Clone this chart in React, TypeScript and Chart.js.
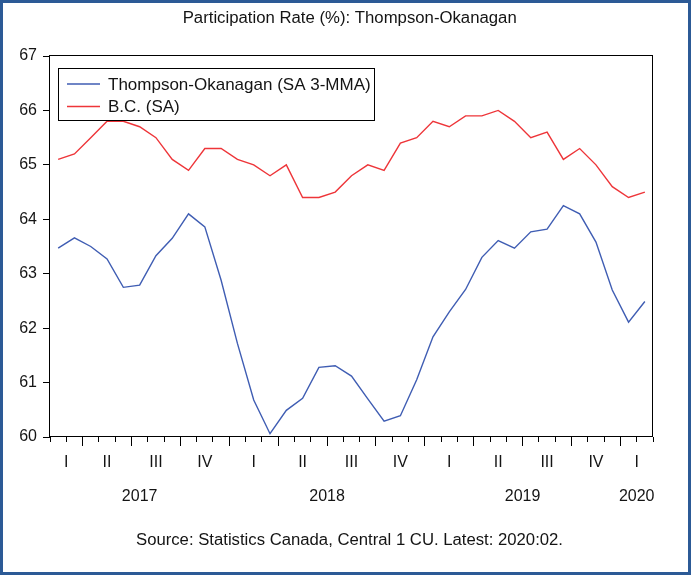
import React, { useEffect, useRef } from "react";
import { Chart, registerables } from "chart.js";

Chart.register(...registerables);

const TITLE = "Participation Rate (%): Thompson-Okanagan";
const SOURCE = "Source: Statistics Canada, Central 1 CU. Latest: 2020:02.";

const MONTHS = [
  "2017:02", "2017:03", "2017:04", "2017:05", "2017:06", "2017:07", "2017:08", "2017:09", "2017:10", "2017:11", "2017:12",
  "2018:01", "2018:02", "2018:03", "2018:04", "2018:05", "2018:06", "2018:07", "2018:08", "2018:09", "2018:10", "2018:11", "2018:12",
  "2019:01", "2019:02", "2019:03", "2019:04", "2019:05", "2019:06", "2019:07", "2019:08", "2019:09", "2019:10", "2019:11", "2019:12",
  "2020:01", "2020:02",
];

const THOMPSON_OKANAGAN = [
  63.47, 63.66, 63.50, 63.27, 62.75, 62.79, 63.33, 63.65, 64.10, 63.86, 62.88,
  61.72, 60.68, 60.06, 60.49, 60.71, 61.28, 61.31, 61.12, 60.70, 60.29, 60.39, 61.05,
  61.84, 62.30, 62.71, 63.30, 63.61, 63.47, 63.77, 63.82, 64.25, 64.10, 63.58, 62.70,
  62.11, 62.49,
];

const BC = [
  65.1, 65.2, 65.5, 65.8, 65.8, 65.7, 65.5, 65.1, 64.9, 65.3, 65.3,
  65.1, 65.0, 64.8, 65.0, 64.4, 64.4, 64.5, 64.8, 65.0, 64.9, 65.4, 65.5,
  65.8, 65.7, 65.9, 65.9, 66.0, 65.8, 65.5, 65.6, 65.1, 65.3, 65.0, 64.6,
  64.4, 64.5,
];

const SERIES_NAMES = ["Thompson-Okanagan (SA 3-MMA)", "B.C. (SA)"];
const SERIES_COLORS = ["#3F5DB3", "#EE3539"];
const Y_MIN = 60;
const Y_MAX = 67;
const QUARTER_LABELS = ["I", "II", "III", "IV"];

const FONT = '"Liberation Sans", Arial, sans-serif';
const TEXT_COLOR = "#141414";

function drawFit(ctx: CanvasRenderingContext2D, text: string, cx: number, baseline: number, size: number, width: number) {
  ctx.save();
  ctx.font = `${size}px ${FONT}`;
  const w = ctx.measureText(text).width;
  const sx = width / w;
  ctx.translate(cx, baseline);
  ctx.scale(sx, 1);
  ctx.textAlign = "center";
  ctx.textBaseline = "alphabetic";
  ctx.fillStyle = TEXT_COLOR;
  ctx.fillText(text, 0, 0);
  ctx.restore();
}

function groupsBy(keyFn: (m: string) => string) {
  const groups: { key: string; start: number; end: number }[] = [];
  MONTHS.forEach((m, i) => {
    const k = keyFn(m);
    const last = groups[groups.length - 1];
    if (last && last.key === k) last.end = i;
    else groups.push({ key: k, start: i, end: i });
  });
  return groups;
}

const decorPlugin = {
  id: "decor",
  beforeDraw(chart: any) {
    const ctx = chart.ctx;
    ctx.save();
    ctx.fillStyle = "#ffffff";
    ctx.fillRect(0, 0, chart.width, chart.height);
    ctx.restore();
  },
  afterDraw(chart: any) {
    const ctx: CanvasRenderingContext2D = chart.ctx;
    const { left, right, top, bottom } = chart.chartArea;
    const x = chart.scales.x;
    ctx.save();

    // plot frame
    ctx.strokeStyle = "#000";
    ctx.lineWidth = 1;
    ctx.strokeRect(left - 0.5, top - 0.5, right - left, bottom - top);

    // x ticks at month boundaries
    ctx.beginPath();
    for (let i = 0; i <= MONTHS.length; i++) {
      const px = Math.floor(x.getPixelForValue(i - 0.5)) + 0.5;
      const mon = i < MONTHS.length ? parseInt(MONTHS[i].split(":")[1], 10) : 0;
      const major = i > 0 && i < MONTHS.length && mon % 3 === 1;
      const len = major ? 9 : 5;
      ctx.moveTo(px, bottom);
      ctx.lineTo(px, bottom + len);
    }
    ctx.stroke();

    // quarter labels
    ctx.fillStyle = TEXT_COLOR;
    ctx.font = `16px ${FONT}`;
    ctx.textAlign = "center";
    ctx.textBaseline = "alphabetic";
    groupsBy((m) => {
      const [y, mo] = m.split(":").map((s) => parseInt(s, 10));
      return `${y}-${Math.floor((mo - 1) / 3)}`;
    }).forEach((g) => {
      const q = parseInt(g.key.split("-")[1], 10);
      const cx = (x.getPixelForValue(g.start - 0.5) + x.getPixelForValue(g.end + 0.5)) / 2;
      ctx.fillText(QUARTER_LABELS[q], cx, 467);
    });

    // year labels
    groupsBy((m) => m.split(":")[0]).forEach((g) => {
      const cx = (x.getPixelForValue(g.start - 0.5) + x.getPixelForValue(g.end + 0.5)) / 2;
      ctx.fillText(g.key, cx, 501);
    });

    // legend
    const lx = 58.5, ly = 68.5, lw = 316, lh = 52;
    ctx.fillStyle = "#fff";
    ctx.fillRect(lx, ly, lw, lh);
    ctx.strokeStyle = "#000";
    ctx.strokeRect(lx, ly, lw, lh);
    const rows = [84, 106.5];
    SERIES_NAMES.forEach((name, i) => {
      ctx.strokeStyle = SERIES_COLORS[i];
      ctx.lineWidth = 1.4;
      ctx.beginPath();
      ctx.moveTo(67, rows[i]);
      ctx.lineTo(100, rows[i]);
      ctx.stroke();
      ctx.fillStyle = TEXT_COLOR;
      ctx.font = `17px ${FONT}`;
      ctx.textAlign = "left";
      ctx.textBaseline = "middle";
      ctx.fillText(name, 108, rows[i] + 1);
    });

    // title & source
    drawFit(ctx, TITLE, 349.7, 23, 16, 334);
    drawFit(ctx, SOURCE, 349.5, 545, 16, 427);

    // outer frame
    ctx.strokeStyle = "#2C5A96";
    ctx.lineWidth = 3;
    ctx.strokeRect(1.5, 1.5, 688, 572);

    ctx.restore();
  },
};

export default function App() {
  const ref = useRef<HTMLCanvasElement | null>(null);

  useEffect(() => {
    document.body.style.margin = "0";
    const canvas = ref.current;
    if (!canvas) return;
    const chart = new Chart(canvas, {
      type: "line",
      data: {
        datasets: [
          {
            label: SERIES_NAMES[0],
            data: THOMPSON_OKANAGAN.map((v, i) => ({ x: i, y: v })),
            borderColor: SERIES_COLORS[0],
            borderWidth: 1.4,
            pointRadius: 0,
            tension: 0,
            fill: false,
          },
          {
            label: SERIES_NAMES[1],
            data: BC.map((v, i) => ({ x: i, y: v })),
            borderColor: SERIES_COLORS[1],
            borderWidth: 1.4,
            pointRadius: 0,
            tension: 0,
            fill: false,
          },
        ],
      },
      options: {
        responsive: false,
        animation: false,
        devicePixelRatio: 1,
        layout: { padding: { left: 8, right: 38, top: 56, bottom: 142 } },
        plugins: {
          legend: { display: false },
          title: { display: false },
          tooltip: { enabled: false },
        },
        scales: {
          x: {
            type: "linear",
            display: false,
            min: -0.5,
            max: MONTHS.length - 0.5,
          },
          y: {
            type: "linear",
            min: Y_MIN,
            max: Y_MAX,
            afterFit: (scale: any) => {
              scale.width = 42;
            },
            ticks: {
              stepSize: 1,
              padding: 6,
              color: TEXT_COLOR,
              font: { family: FONT, size: 16 },
            },
            grid: {
              drawOnChartArea: false,
              drawTicks: true,
              tickLength: 7,
              color: "#000",
              lineWidth: 1,
            },
            border: { display: false },
          },
        },
      },
      plugins: [decorPlugin],
    });
    return () => chart.destroy();
  }, []);

  return (
    <div style={{ width: 691, height: 579, position: "relative" }}>
      <canvas ref={ref} width={691} height={579} style={{ display: "block" }} />
    </div>
  );
}
